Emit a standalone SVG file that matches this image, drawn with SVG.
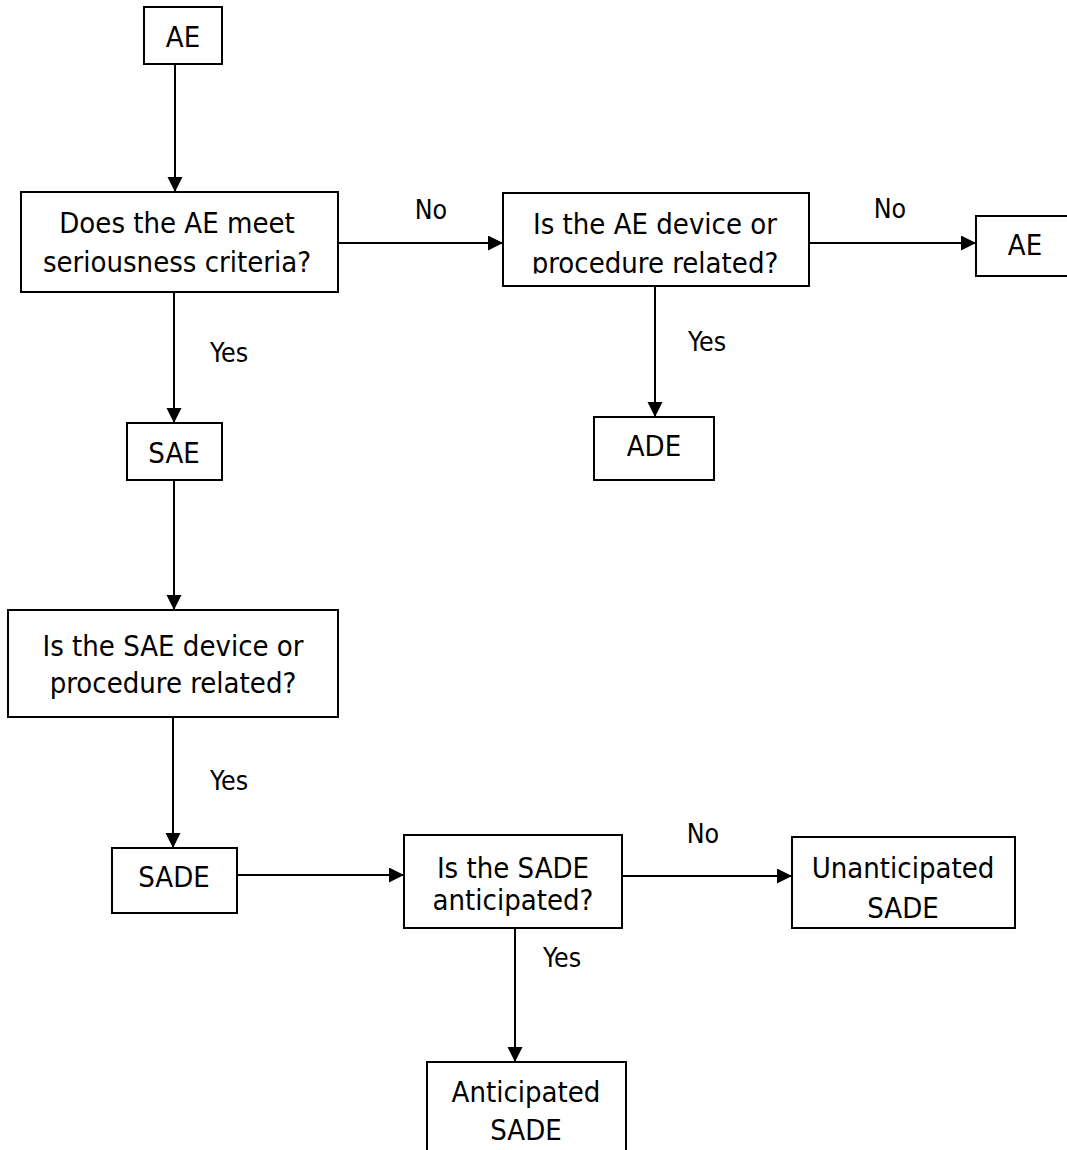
<svg xmlns="http://www.w3.org/2000/svg" width="1067" height="1150" viewBox="0 0 1067 1150">
  <style>
    .box { fill: #ffffff; stroke: #000000; stroke-width: 2; }
    .t { font-family: 'DejaVu Sans Condensed', 'DejaVu Sans', sans-serif; font-stretch: condensed; font-size: 29px; fill: #000000; text-anchor: middle; }
    .lbl { font-family: 'DejaVu Sans Condensed', 'DejaVu Sans', sans-serif; font-stretch: condensed; font-size: 26.5px; fill: #000000; text-anchor: middle; }
    .conn { stroke: #000000; stroke-width: 2; fill: none; marker-end: url(#arrow); }
  </style>
  <defs>
    <marker id="arrow" markerUnits="userSpaceOnUse" markerWidth="16" markerHeight="16" refX="15" refY="7.5" orient="auto">
      <path d="M0,0 L15,7.5 L0,15 z" fill="#000000"/>
    </marker>
    <clipPath id="clip3">
      <rect x="503" y="193" width="306" height="80.5"/>
    </clipPath>
  </defs>
  <rect width="1067" height="1150" fill="#ffffff"/>

  <g id="connectors">
    <line class="conn" x1="175" y1="64" x2="175" y2="192"/>
    <line class="conn" x1="338" y1="243" x2="503" y2="243"/>
    <line class="conn" x1="809" y1="243" x2="976" y2="243"/>
    <line class="conn" x1="174" y1="292" x2="174" y2="423"/>
    <line class="conn" x1="655" y1="286" x2="655" y2="417"/>
    <line class="conn" x1="174" y1="480" x2="174" y2="610"/>
    <line class="conn" x1="173" y1="717" x2="173" y2="848"/>
    <line class="conn" x1="237" y1="875" x2="404" y2="875"/>
    <line class="conn" x1="622" y1="876" x2="792" y2="876"/>
    <line class="conn" x1="515" y1="928" x2="515" y2="1062"/>
    <text class="lbl" x="431" y="219">No</text>
    <text class="lbl" x="890" y="218">No</text>
    <text class="lbl" x="229" y="362">Yes</text>
    <text class="lbl" x="707" y="351">Yes</text>
    <text class="lbl" x="229" y="790">Yes</text>
    <text class="lbl" x="703" y="843">No</text>
    <text class="lbl" x="562" y="967">Yes</text>
  </g>

  <g id="n-ae-top">
    <rect class="box" x="144" y="7" width="78" height="57"/>
    <text class="t" x="183" y="47">AE</text>
  </g>

  <g id="n-serious">
    <rect class="box" x="21" y="192" width="317" height="100"/>
    <text class="t" x="177" y="233">Does the AE meet</text>
    <text class="t" x="177" y="272">seriousness criteria?</text>
  </g>

  <g id="n-ae-related">
    <rect class="box" x="503" y="193" width="306" height="93"/>
    <text class="t" x="655" y="234">Is the AE device or</text>
    <text class="t" x="655" y="273" clip-path="url(#clip3)">procedure related?</text>
  </g>

  <g id="n-ae-right">
    <rect class="box" x="976" y="216" width="100" height="60"/>
    <text class="t" x="1025" y="255">AE</text>
  </g>

  <g id="n-sae">
    <rect class="box" x="127" y="423" width="95" height="57"/>
    <text class="t" x="174" y="463">SAE</text>
  </g>

  <g id="n-ade">
    <rect class="box" x="594" y="417" width="120" height="63"/>
    <text class="t" x="654" y="456">ADE</text>
  </g>

  <g id="n-sae-related">
    <rect class="box" x="8" y="610" width="330" height="107"/>
    <text class="t" x="173" y="656">Is the SAE device or</text>
    <text class="t" x="173" y="693">procedure related?</text>
  </g>

  <g id="n-sade">
    <rect class="box" x="112" y="848" width="125" height="65"/>
    <text class="t" x="174" y="887">SADE</text>
  </g>

  <g id="n-anticipated-q">
    <rect class="box" x="404" y="835" width="218" height="93"/>
    <text class="t" x="513" y="878">Is the SADE</text>
    <text class="t" x="513" y="910">anticipated?</text>
  </g>

  <g id="n-unanticipated">
    <rect class="box" x="792" y="837" width="223" height="91"/>
    <text class="t" x="903" y="878">Unanticipated</text>
    <text class="t" x="903" y="918">SADE</text>
  </g>

  <g id="n-anticipated">
    <rect class="box" x="427" y="1062" width="199" height="100"/>
    <text class="t" x="526" y="1102">Anticipated</text>
    <text class="t" x="526" y="1140">SADE</text>
  </g>
</svg>
